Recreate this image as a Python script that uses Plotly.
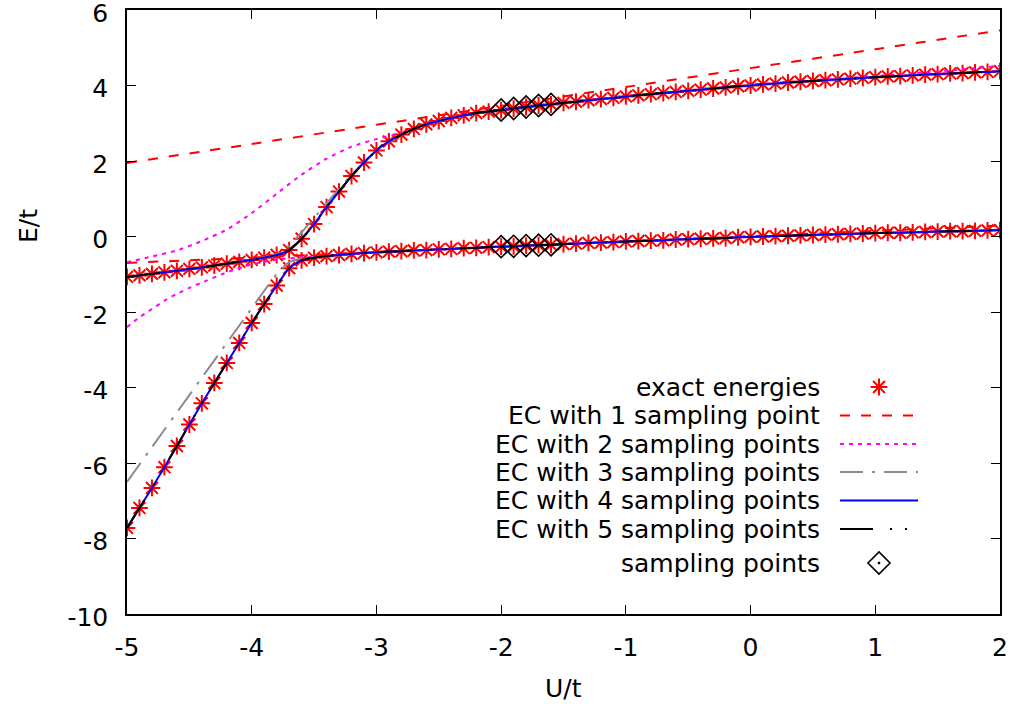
import plotly.graph_objects as go

# ---------------- data ----------------
U = [-5.0, -4.9, -4.8, -4.7, -4.6, -4.5, -4.4, -4.3, -4.2, -4.1,
     -4.0, -3.9, -3.8, -3.7, -3.6, -3.5, -3.4, -3.3, -3.2, -3.1,
     -3.0, -2.9, -2.8, -2.7, -2.6, -2.5, -2.4, -2.3, -2.2, -2.1,
     -2.0, -1.9, -1.8, -1.7, -1.6, -1.5, -1.4, -1.3, -1.2, -1.1,
     -1.0, -0.9, -0.8, -0.7, -0.6, -0.5, -0.4, -0.3, -0.2, -0.1,
     0.0, 0.1, 0.2, 0.3, 0.4, 0.5, 0.6, 0.7, 0.8, 0.9,
     1.0, 1.1, 1.2, 1.3, 1.4, 1.5, 1.6, 1.7, 1.8, 1.9, 2.0]

exact_lower = [-7.72, -7.19, -6.66, -6.11, -5.55, -4.98, -4.42, -3.88, -3.35, -2.82,
               -2.29, -1.79, -1.30, -0.84, -0.63, -0.56, -0.52, -0.49, -0.46, -0.44,
               -0.42, -0.40, -0.39, -0.37, -0.36, -0.34, -0.33, -0.31, -0.30, -0.28,
               -0.27, -0.26, -0.24, -0.23, -0.22, -0.20, -0.19, -0.17, -0.16, -0.15,
               -0.13, -0.12, -0.11, -0.10, -0.08, -0.07, -0.06, -0.05, -0.04, -0.02,
               -0.01, 0.00, 0.01, 0.02, 0.03, 0.04, 0.05, 0.06, 0.07, 0.08,
               0.09, 0.10, 0.10, 0.11, 0.12, 0.13, 0.14, 0.14, 0.15, 0.16, 0.17]

exact_upper = [-1.07, -1.03, -0.99, -0.95, -0.91, -0.86, -0.82, -0.77, -0.72, -0.67,
               -0.62, -0.56, -0.49, -0.36, -0.06, 0.33, 0.78, 1.19, 1.60, 1.96,
               2.28, 2.52, 2.70, 2.85, 2.97, 3.06, 3.14, 3.21, 3.27, 3.31,
               3.35, 3.39, 3.43, 3.47, 3.50, 3.54, 3.57, 3.61, 3.64, 3.67,
               3.71, 3.74, 3.77, 3.80, 3.83, 3.86, 3.89, 3.92, 3.95, 3.98,
               4.00, 4.03, 4.05, 4.08, 4.10, 4.12, 4.14, 4.16, 4.18, 4.20,
               4.22, 4.24, 4.25, 4.27, 4.29, 4.30, 4.32, 4.33, 4.35, 4.36, 4.38]

ec1_U = [-5, -4, -3, -2, -1, 0, 1, 2]
ec1_upper = [1.95, 2.45, 2.96, 3.46, 3.96, 4.46, 4.96, 5.46]
ec1_lower = [-0.70, -0.56, -0.41, -0.27, -0.13, 0.01, 0.15, 0.29]

ec2_upper_U = [-5, -4.8, -4.6, -4.4, -4.2, -4.0, -3.8, -3.6, -3.4, -3.2, -3.0, -2.8,
               -2.6, -2.4, -2.2, -2.0, -1.5, -1.0, -0.5, 0, 0.5, 1.0, 1.5, 2.0]
ec2_upper = [-0.68, -0.53, -0.37, -0.12, 0.18, 0.62, 1.13, 1.64, 2.06, 2.38, 2.58, 2.74,
             2.97, 3.14, 3.27, 3.36, 3.55, 3.72, 3.87, 4.02, 4.14, 4.25, 4.37, 4.52]
ec2_lower_U = [-5, -4.9, -4.8, -4.7, -4.6, -4.5, -4.4, -4.2, -4.0, -3.8, -3.6, -3.4,
               -3.0, -2.0, -1.0, 0, 1, 2]
ec2_lower = [-2.40, -2.14, -1.92, -1.70, -1.52, -1.36, -1.22, -0.95, -0.74, -0.61, -0.55, -0.52,
             -0.42, -0.27, -0.13, -0.01, 0.09, 0.18]

ec3_lower_U = [-5, -4.8, -4.6, -4.4, -4.2, -4.0, -3.9, -3.8, -3.7, -3.6, -3.5, -3.4,
               -3.0, -2.0, -1.0, 0, 1, 2]
ec3_lower = [-6.50, -5.58, -4.66, -3.74, -2.82, -1.90, -1.44, -1.00, -0.68, -0.58, -0.54, -0.52,
             -0.42, -0.27, -0.13, -0.01, 0.09, 0.17]
ec3_upper_U = [-5, -4.5, -4.0, -3.8, -3.7, -3.6, -3.5, -3.4, -3.3, -3.2, -3.1, -3.0,
               -2.8, -2.6, -2.4, -2.2, -2.0, -1.0, 0, 1, 2]
ec3_upper = [-1.07, -0.86, -0.62, -0.47, -0.24, 0.11, 0.49, 0.88, 1.26, 1.63, 1.97, 2.28,
             2.70, 2.97, 3.14, 3.27, 3.35, 3.71, 4.00, 4.22, 4.38]

# EC with 4 and 5 sampling points lie on top of the exact curves
ec4_lower = list(exact_lower)
ec4_upper = list(exact_upper)
ec5_lower = list(exact_lower)
ec5_upper = list(exact_upper)

samp_U = [-2.0, -1.9, -1.8, -1.7, -1.6]
samp_upper = [3.35, 3.39, 3.43, 3.47, 3.50]
samp_lower = [-0.27, -0.26, -0.24, -0.23, -0.22]

legend_labels = ["exact energies", "EC with 1 sampling point", "EC with 2 sampling points",
                 "EC with 3 sampling points", "EC with 4 sampling points",
                 "EC with 5 sampling points", "sampling points"]

x_ticks = [-5, -4, -3, -2, -1, 0, 1, 2]
x_ticktext = ["-5", "-4", "-3", "-2", "-1", "0", "1", "2"]
y_ticks = [-10, -8, -6, -4, -2, 0, 2, 4, 6]
y_ticktext = ["-10", "-8", "-6", "-4", "-2", "0", "2", "4", "6"]

# ---------------- styles ----------------
FONT = "DejaVu Sans"
FS = 25
RED = "#ff0000"
MAG = "#ff00ff"
GRAY = "#8c8c8c"
BLUE = "#0000ff"
BLACK = "#000000"
DASH1 = "10px,11px"
DASH2 = "4px,5px"
DASH3 = "23px,9px,3px,9px"
DASH5 = "33px,17px,2px,13px,2px,13px"
AST = dict(symbol="asterisk-open", size=14, color=RED, line=dict(color=RED, width=2))
DIA = dict(symbol="diamond-open-dot", size=17, color=BLACK, line=dict(color=BLACK, width=1.6))

# plot area in pixels
PL, PR, PT, PB = 127, 1000, 10, 614
W, H = 1013, 704


def join(xa, ya, xb, yb):
    return list(xa) + [None] + list(xb), list(ya) + [None] + list(yb)


def px2paper(px, py):
    return (px - PL) / (PR - PL), (PB - py) / (PB - PT)


fig = go.Figure()

# exact energies
x, y = join(U, exact_upper, U, exact_lower)
fig.add_trace(go.Scatter(x=x, y=y, mode="markers", marker=AST))

line_specs = [
    (ec1_U, ec1_upper, ec1_U, ec1_lower, RED, DASH1),
    (ec2_upper_U, ec2_upper, ec2_lower_U, ec2_lower, MAG, DASH2),
    (ec3_upper_U, ec3_upper, ec3_lower_U, ec3_lower, GRAY, DASH3),
    (U, ec4_upper, U, ec4_lower, BLUE, "solid"),
    (U, ec5_upper, U, ec5_lower, BLACK, DASH5),
]
for xa, ya, xb, yb, col, dash in line_specs:
    x, y = join(xa, ya, xb, yb)
    fig.add_trace(go.Scatter(x=x, y=y, mode="lines",
                             line=dict(color=col, width=2, dash=dash, shape="spline",
                                       smoothing=0.5)))

x, y = join(samp_U, samp_upper, samp_U, samp_lower)
fig.add_trace(go.Scatter(x=x, y=y, mode="markers", marker=DIA))

# ---------------- legend (gnuplot style: text right, sample on the right) ----------------
leg_rows = [387, 415.5, 444, 472, 500.5, 529, 563]
leg_text_x = 822
leg_x0, leg_x1, leg_xm = 840, 918, 879
leg_styles = [
    ("marker", AST),
    ("line", dict(color=RED, width=2, dash=DASH1)),
    ("line", dict(color=MAG, width=2, dash=DASH2)),
    ("line", dict(color=GRAY, width=2, dash=DASH3)),
    ("line", dict(color=BLUE, width=2, dash="solid")),
    ("line", dict(color=BLACK, width=2, dash=DASH5)),
    ("marker", DIA),
]
for lab, ry, (kind, sty) in zip(legend_labels, leg_rows, leg_styles):
    if kind == "line":
        fig.add_trace(go.Scatter(x=[leg_x0, leg_x1], y=[ry, ry], mode="lines", line=sty,
                                 xaxis="x2", yaxis="y2", hoverinfo="skip"))
    else:
        fig.add_trace(go.Scatter(x=[leg_xm], y=[ry], mode="markers", marker=sty,
                                 xaxis="x2", yaxis="y2", hoverinfo="skip"))
    fig.add_annotation(x=leg_text_x, y=ry, xref="x2", yref="y2", text=lab, showarrow=False,
                       xanchor="right", yanchor="middle",
                       font=dict(family=FONT, size=FS, color="black"))

# axis titles (placed in paper coordinates)
tx, ty = px2paper(563, 688)
fig.add_annotation(x=tx, y=ty, xref="paper", yref="paper", text="U/t", showarrow=False,
                   xanchor="center", yanchor="middle", font=dict(family=FONT, size=FS, color="black"))
tx, ty = px2paper(28, 226)
fig.add_annotation(x=tx, y=ty, xref="paper", yref="paper", text="E/t", showarrow=False,
                   textangle=-90, xanchor="center", yanchor="middle",
                   font=dict(family=FONT, size=FS, color="black"))

axis_common = dict(showgrid=False, zeroline=False, showline=True, linecolor="black", linewidth=1.5,
                   ticks="inside", ticklen=9, tickwidth=1.2, tickcolor="black", mirror="ticks",
                   automargin=False, ticklabeloverflow="allow",
                   tickfont=dict(family=FONT, size=FS, color="black"))

fig.update_layout(
    width=W, height=H,
    margin=dict(l=PL, r=W - PR, t=PT, b=H - PB, autoexpand=False),
    paper_bgcolor="white", plot_bgcolor="white",
    showlegend=False,
    xaxis=dict(range=[-5, 2], tickmode="array", tickvals=x_ticks, ticktext=x_ticktext,
               ticklabelstandoff=10, **axis_common),
    yaxis=dict(range=[-10, 6], tickmode="array", tickvals=y_ticks, ticktext=y_ticktext,
               ticklabelstandoff=12, ticklabelshift=3, **axis_common),
    xaxis2=dict(range=[PL, PR], overlaying="x", visible=False, fixedrange=True),
    yaxis2=dict(range=[PB, PT], overlaying="y", visible=False, fixedrange=True),
)

fig.write_html("out.html", config={"displayModeBar": False},
               post_script="document.body.style.margin='0px';document.body.style.overflow='hidden';")
